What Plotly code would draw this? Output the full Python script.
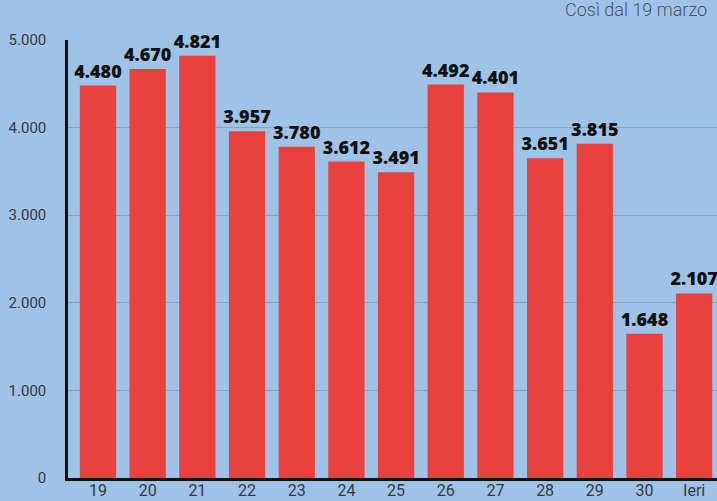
import plotly.graph_objects as go

categories = ["19", "20", "21", "22", "23", "24", "25", "26", "27", "28", "29", "30", "Ieri"]
values = [4480, 4670, 4821, 3957, 3780, 3612, 3491, 4492, 4401, 3651, 3815, 1648, 2107]
y_ticks = [0, 1000, 2000, 3000, 4000, 5000]
y_tick_labels = ["0", "1.000", "2.000", "3.000", "4.000", "5.000"]
subtitle = "Così dal 19 marzo"

BG = "#9fc2e7"
RED = "#e8413e"

fig = go.Figure()
fig.add_trace(go.Bar(
    x=list(range(len(categories))),
    y=values,
    marker=dict(color=RED, line=dict(width=0)),
    width=0.73,
    texttemplate="%{y:,d}",
    textposition="outside",
    constraintext="none",
    textfont=dict(family="Open Sans", size=18, color="#111111", weight=800),
    cliponaxis=False,
    hoverinfo="skip",
))

fig.update_layout(
    width=717, height=501,
    paper_bgcolor=BG, plot_bgcolor=BG,
    separators=",.",
    margin=dict(l=68, r=0, t=40, b=23),
    showlegend=False,
    uniformtext=dict(mode=False),
    annotations=[dict(
        text=subtitle, xref="paper", yref="paper", x=1.0, y=1.0,
        xanchor="right", yanchor="bottom", yshift=18, xshift=-8,
        showarrow=False,
        font=dict(family="Roboto", size=18, color="#4a5566", weight=300),
    )],
)
fig.update_xaxes(
    range=[-0.604, 12.46],
    tickvals=list(range(len(categories))),
    ticktext=categories,
    showgrid=False,
    showline=True, linecolor="#111111", linewidth=2.5,
    ticks="",
    tickfont=dict(family="Roboto", size=16, color="#333a44"),
    ticklabelstandoff=-4,
    zeroline=False,
    automargin=False,
)
fig.update_yaxes(
    range=[0, 5000],
    tickvals=y_ticks,
    ticktext=y_tick_labels,
    showgrid=True, gridcolor="#8aa3bf", gridwidth=1,
    showline=True, linecolor="#111111", linewidth=2.5,
    ticks="",
    tickfont=dict(family="Roboto", size=15, color="#333a44"),
    ticklabelstandoff=16,
    zeroline=False,
    automargin=False,
)

fig.write_html(
    "out.html",
    config={"displayModeBar": False},
    post_script="document.body.style.margin='0px';document.body.style.overflow='hidden';",
)
